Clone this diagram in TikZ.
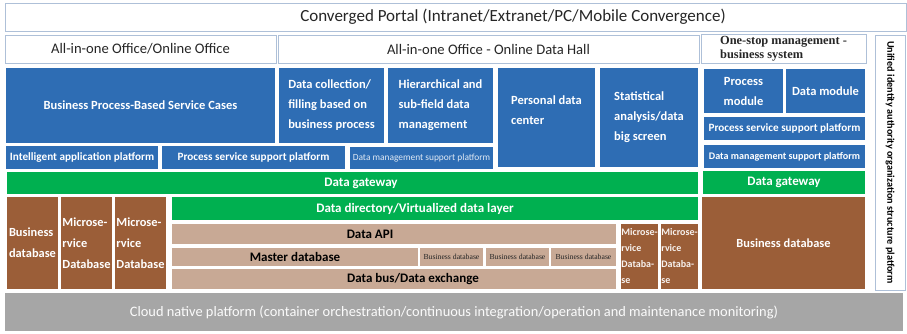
\documentclass[tikz,border=0pt]{standalone}
\usepackage{fontspec}
\setmainfont{Carlito}
\newfontfamily\timesfont{Liberation Serif}
\usepackage{tikz}

\definecolor{cellblue}{HTML}{2E6DB4}
\definecolor{cellgreen}{HTML}{00B050}
\definecolor{cellbrown}{HTML}{9B5E38}
\definecolor{celltan}{HTML}{C8A995}
\definecolor{cellgray}{HTML}{A6A6A6}
\definecolor{edgeblue}{HTML}{AEC0D8}

% style, name, x1, y1, x2, y2, text  (pixel coordinates, y downwards)
\newcommand{\cell}[7]{%
  \node[#1, anchor=north west, minimum width={(#5-#3)*1pt},
        minimum height={(#6-#4)*1pt}] (#2) at (#3,#4) {#7};}

\begin{document}
\begin{tikzpicture}[x=1pt, y=-1pt,
  every node/.style={inner sep=0pt, outer sep=0pt, align=left},
  whitebox/.style={draw=edgeblue, line width=0.8pt, fill=white, text=black!85},
  bluebox/.style={fill=cellblue, text=white, font=\bfseries\fontsize{12.5}{20}\selectfont},
  bluestrip/.style={fill=cellblue, text=white, font=\bfseries\fontsize{11.2}{13}\selectfont},
  greenbox/.style={fill=cellgreen, text=white, font=\bfseries\fontsize{13}{15}\selectfont},
  brownbox/.style={fill=cellbrown, text=white, font=\bfseries\fontsize{12.4}{21}\selectfont},
  brownslim/.style={fill=cellbrown, text=white!92!cellbrown, font=\bfseries\fontsize{10}{16}\selectfont},
  tanbox/.style={fill=celltan, text=black, font=\bfseries\fontsize{13}{15}\selectfont},
  tansmall/.style={fill=celltan, text=black!85, font=\timesfont\fontsize{7.7}{9}\selectfont}]
  \useasboundingbox (0,0) rectangle (907,334);

  % portal and office rows
  \cell{whitebox, font=\fontsize{17}{20}\selectfont}{portal}{5}{3}{906}{31}
    {\hspace*{115pt}Converged Portal (Intranet/Extranet/PC/Mobile Convergence)}
  \cell{whitebox, font=\fontsize{14.6}{17}\selectfont}{office}{5}{35}{276}{63}
    {All-in-one Office/Online Office}
  \cell{whitebox, font=\fontsize{14.6}{17}\selectfont}{hall}{278}{35}{699}{63}
    {All-in-one Office - Online Data Hall}
  \cell{whitebox, font=\timesfont\bfseries\fontsize{12.4}{13.5}\selectfont}{onestop}{701}{34}{866}{63}
    {One-stop management -\\business system}
  \cell{whitebox}{unified}{875}{35}{905}{290}{}
  \node[rotate=-90, text=black, font=\bfseries\fontsize{10.2}{12}\selectfont] (unifiedtext)
    at (unified.center) {Unified identity authority organization structure platform};

  % application layer
  \cell{bluebox}{cases}{6}{68}{275}{143}{Business Process-Based Service Cases}
  \cell{bluebox}{collect}{279}{68}{384}{143}{Data collection/\\filling based on\\business process}
  \cell{bluebox}{hier}{388}{68}{493}{143}{Hierarchical and\\sub-field data\\management}
  \cell{bluebox}{personal}{498}{68}{595}{167}{Personal data\\center\\[-6pt]\mbox{}}
  \cell{bluebox}{stat}{600}{68}{698}{167}{Statistical\\analysis/data\\big screen}
  \cell{bluebox, align=center}{procmod}{704}{69}{783}{113}{Process\\module}
  \cell{bluebox}{datamod}{786}{69}{865}{113}{Data module}
  \cell{bluestrip}{pssp2}{704}{117}{865}{140}{Process service support platform}
  \cell{bluestrip, font=\bfseries\fontsize{10.1}{12}\selectfont}{dmsp2}{704}{145}{865}{168}
    {Data management support platform}
  \cell{bluestrip}{intel}{6}{146}{158}{169}{Intelligent application platform}
  \cell{bluestrip}{pssp1}{162}{146}{345}{169}{Process service support platform}
  \cell{bluestrip, font=\fontsize{9.4}{11}\selectfont, text=white!85!cellblue}{dmsp1}{350}{147}{493}{169}
    {Data management support platform}

  % gateways and data layer
  \cell{greenbox}{gw1}{7}{172}{698}{194}{\hspace*{17pt}Data gateway}
  \cell{greenbox}{gw2}{703}{171}{865}{194}{Data gateway}
  \cell{greenbox}{dir}{172}{197}{698}{220}{Data directory/Virtualized data layer\hspace*{40pt}}

  \cell{brownbox}{bdb1}{7}{197}{58}{289}{Business\\database}
  \cell{brownbox}{msdb1}{61}{197}{112}{289}{Microse-\\rvice\\Database}
  \cell{brownbox}{msdb2}{115}{197}{166}{289}{Microse-\\rvice\\Database}
  \cell{brownslim}{msdb3}{621}{224}{658}{289}{Microse-\\rvice\\Databa-\\se}
  \cell{brownslim}{msdb4}{661}{224}{698}{289}{Microse-\\rvice\\Databa-\\se}
  \cell{brownbox}{bdb2}{702}{197}{865}{289}{Business database}

  \cell{tanbox}{api}{172}{224}{616}{244}{Data API\hspace*{48pt}}
  \cell{tanbox}{master}{172}{248}{418}{266}{Master database}
  \cell{tansmall}{bdb3}{420}{248}{483}{266}{Business database}
  \cell{tansmall}{bdb4}{486}{248}{549}{266}{Business database}
  \cell{tansmall}{bdb5}{551}{248}{616}{266}{Business database}
  \cell{tanbox}{bus}{172}{269}{616}{289}{\hspace*{38pt}Data bus/Data exchange}

  % infrastructure
  \cell{fill=cellgray, text=white!95!cellgray, font=\fontsize{14.4}{17}\selectfont}{cloud}{5}{293}{903}{331}
    {Cloud native platform (container orchestration/continuous integration/operation and maintenance monitoring)}
\end{tikzpicture}
\end{document}
